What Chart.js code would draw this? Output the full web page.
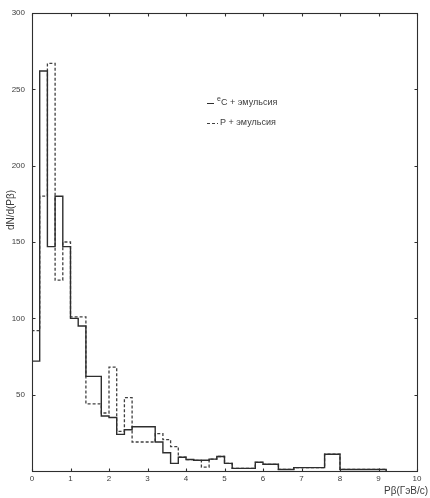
<!DOCTYPE html>
<html><head><meta charset="utf-8">
<script src="https://cdn.jsdelivr.net/npm/chart.js@4.4.1/dist/chart.umd.min.js"></script>
<style>html,body{margin:0;padding:0;background:#fff}#wrap{width:430px;height:498px}</style>
</head><body><div id="wrap"><canvas id="c" width="430" height="498"></canvas></div>
<script>
// Bin edges of Pβ (GeV/c)
const binEdges = [0,0.2,0.4,0.6,0.8,1,1.2,1.4,1.6,1.8,2,2.2,2.4,2.6,2.8,3,3.2,3.4,3.6,3.8,4,4.2,4.4,4.6,4.8,5,5.2,5.4,5.6,5.8,6,6.2,6.4,6.6,6.8,7,7.2,7.4,7.6,7.8,8,8.2,8.4,8.6,8.8,9,9.2];
// C + emulsion (solid)
const carbonCounts = [72,262,147,180,147,100,95,62,62,36, 35,24,27,29,29,29,19,12,5,9, 7.5,7,7,7.8,9.5,5,1.7,1.7,1.7,5.7, 4.4,4.4,1,1,2.2,2.2,2.2,2.2,11,11, 1,1,1,1,1,1];
// p + emulsion (dashed)
const protonCounts = [92,180,267,125,150,101,101,44,44,38, 68,26,48,19,19,19,24.5,20.5,16,9, 7.5,7,2.5,7.8,9.5,5,1.7,1.7,1.7,5.7, 4.4,4.4,1,1,2.2,2.2,2.2,2.2,11,11, 1,1,1,1,1,1];
const xTicks = [0,1,2,3,4,5,6,7,8,9,10];
const yTicks = [0,50,100,150,200,250,300];
const seriesLabels = ['C + эмульсия','P + эмульсия'];
const seriesSup = ['e',''];
const xTitle = 'Pβ(ГэВ/с)';
const yTitle = 'dN/d(Pβ)';

function steps(counts){
  const pts=[{x:binEdges[0],y:0}];
  counts.forEach((v,i)=>pts.push({x:binEdges[i],y:v}));
  pts.push({x:binEdges[counts.length],y:0});
  return pts;
}
const INK='#2e2e2e', TXT='#3c3c3c', FONT='"Liberation Sans", Arial, sans-serif';

const framePlugin = {
  id:'frame',
  afterDraw(chart){
    const {ctx, chartArea:a, scales:{x,y}} = chart;
    const L=Math.round(a.left)+0.5, R=Math.round(a.right)+0.5, T=Math.round(a.top)+0.5, B=Math.round(a.bottom)+0.5;
    ctx.save();
    ctx.strokeStyle=INK; ctx.lineWidth=1.1;
    ctx.strokeRect(L,T,R-L,B-T);
    ctx.beginPath();
    xTicks.forEach(v=>{const p=Math.round(x.getPixelForValue(v))+0.5; ctx.moveTo(p,B); ctx.lineTo(p,B-3); ctx.moveTo(p,T); ctx.lineTo(p,T+3);});
    yTicks.forEach(v=>{const p=Math.round(y.getPixelForValue(v))+0.5; ctx.moveTo(L,p); ctx.lineTo(L+3,p); ctx.moveTo(R,p); ctx.lineTo(R-3,p);});
    ctx.stroke();
    // axis titles
    ctx.fillStyle=TXT;
    ctx.font='10px '+FONT;
    ctx.textAlign='center'; ctx.textBaseline='middle';
    ctx.save(); ctx.translate(11,210); ctx.rotate(-Math.PI/2); ctx.fillText(yTitle,0,0); ctx.restore();
    ctx.fillText(xTitle,406,491);
    // legend
    const ds = chart.data.datasets;
    const rows=[{y:103,x0:207,x1:214,tx:218},{y:123,x0:207,x1:218,tx:220}];
    rows.forEach((r,i)=>{
      ctx.save();
      ctx.strokeStyle=ds[i].borderColor; ctx.lineWidth=1;
      ctx.setLineDash(ds[i].borderDash||[]);
      ctx.beginPath(); ctx.moveTo(r.x0,r.y+0.5); ctx.lineTo(r.x1,r.y+0.5); ctx.stroke();
      ctx.restore();
      ctx.textAlign='left';
      let tx=r.tx;
      if(seriesSup[i]){ctx.font='7px '+FONT; ctx.fillText(seriesSup[i],tx-1,r.y-4); tx+=3;}
      ctx.font='9px '+FONT;
      ctx.fillText(seriesLabels[i],tx,r.y);
    });
    ctx.restore();
  }
};

new Chart(document.getElementById('c'),{
  type:'line',
  data:{datasets:[
    {label:seriesLabels[0], data:steps(carbonCounts), stepped:true, borderColor:INK, borderWidth:1.4, pointRadius:0, fill:false},
    {label:seriesLabels[1], data:steps(protonCounts), stepped:true, borderColor:'#404040', borderWidth:1.3, borderDash:[3,2], pointRadius:0, fill:false}
  ]},
  options:{
    responsive:false, animation:false, devicePixelRatio:1,
    layout:{padding:{left:0,right:13,top:13,bottom:0}},
    plugins:{legend:{display:false}, tooltip:{enabled:false}},
    scales:{
      x:{type:'linear', min:0, max:10,
        afterBuildTicks:s=>{s.ticks=xTicks.map(v=>({value:v}));},
        grid:{display:false, drawTicks:false}, border:{display:false},
        ticks:{padding:3, autoSkip:false, maxRotation:0, color:TXT, font:{family:FONT,size:8}},
        afterFit:s=>{s.height=27;}},
      y:{min:0, max:300,
        afterBuildTicks:s=>{s.ticks=yTicks.map(v=>({value:v}));},
        grid:{display:false, drawTicks:false}, border:{display:false},
        ticks:{padding:7, color:TXT, font:{family:FONT,size:8}, callback:v=>v===0?'':String(v)},
        afterFit:s=>{s.width=32;}}
    }
  },
  plugins:[framePlugin]
});
</script></body></html>
